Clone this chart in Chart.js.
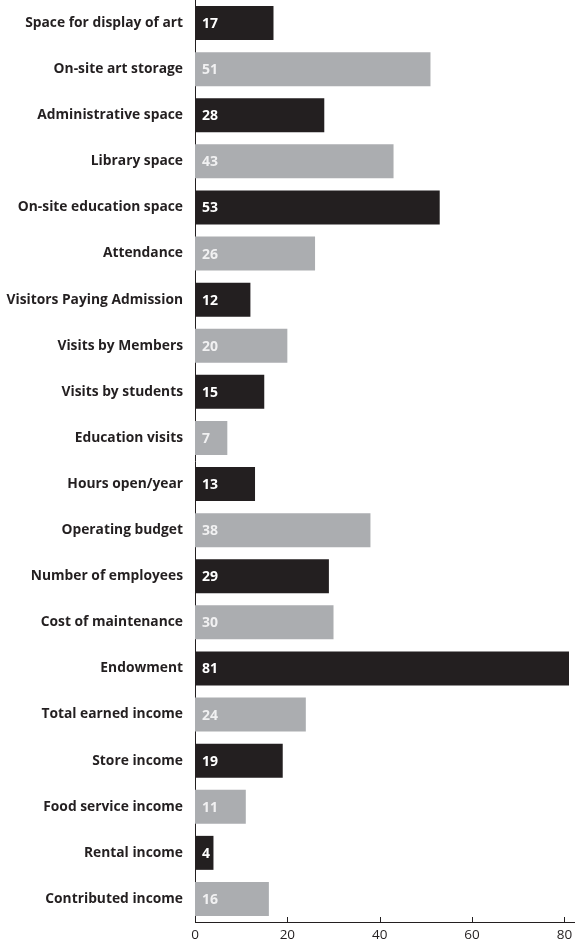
<!DOCTYPE html>
<html>
<head>
<meta charset="utf-8">
<script src="https://cdn.jsdelivr.net/npm/chart.js@4.4.1/dist/chart.umd.min.js"></script>
<style>
  html, body { margin: 0; padding: 0; background: #fff; }
  #wrap { width: 575px; height: 943px; }
</style>
</head>
<body>
<div id="wrap"><canvas id="bars"></canvas></div>
<script>
// data
const categories = [
    'Space for display of art', 'On-site art storage', 'Administrative space',
    'Library space', 'On-site education space', 'Attendance',
    'Visitors Paying Admission', 'Visits by Members', 'Visits by students',
    'Education visits', 'Hours open/year', 'Operating budget',
    'Number of employees', 'Cost of maintenance', 'Endowment',
    'Total earned income', 'Store income', 'Food service income',
    'Rental income', 'Contributed income'
];
const values = [17, 51, 28, 43, 53, 26, 12, 20, 15, 7, 13, 38, 29, 30, 81, 24, 19, 11, 4, 16];
const xTicks = [0, 20, 40, 60, 80];

const DARK = '#231f20';
const GREY = '#abadb0';
const barColors = values.map((v, i) => i % 2 == 0 ? DARK : GREY);
const textColors = values.map((v, i) => i % 2 == 0 ? '#ffffff' : '#f1f1f2');

const labelFont = "'Open Sans', 'Noto Sans', sans-serif";

// white numbers inside the bars
const valueLabels = {
    id: 'valueLabels',
    afterDatasetsDraw(chart) {
        const ctx = chart.ctx;
        const meta = chart.getDatasetMeta(0);
        ctx.save();
        ctx.font = 'bold 14px ' + labelFont;
        ctx.textAlign = 'left';
        ctx.textBaseline = 'middle';
        meta.data.forEach((bar, i) => {
            ctx.fillStyle = textColors[i];
            ctx.fillText(String(values[i]), bar.base + 7, bar.y + 1);
        });
        ctx.restore();
    }
};

// small tick marks pointing up from the x axis
const innerTicks = {
    id: 'innerTicks',
    afterDraw(chart) {
        const ctx = chart.ctx;
        const xs = chart.scales.x;
        const bottom = chart.chartArea.bottom;
        ctx.save();
        ctx.strokeStyle = DARK;
        ctx.lineWidth = 1;
        xs.ticks.forEach(t => {
            const px = Math.round(xs.getPixelForValue(t.value)) + 0.5;
            ctx.beginPath();
            ctx.moveTo(px, bottom);
            ctx.lineTo(px, bottom - 5);
            ctx.stroke();
        });
        ctx.restore();
    }
};

const config = {
    type: 'bar',
    data: {
        labels: categories,
        datasets: [{
            data: values,
            backgroundColor: barColors,
            borderWidth: 0,
            barPercentage: 0.737,
            categoryPercentage: 1
        }]
    },
    options: {
        indexAxis: 'y',
        responsive: true,
        maintainAspectRatio: false,
        animation: false,
        layout: { padding: { top: 0, right: 0, bottom: 0, left: 0 } },
        plugins: {
            legend: { display: false },
            tooltip: { enabled: false }
        },
        scales: {
            x: {
                min: 0,
                max: 82.3,
                afterFit(scale) {
                    scale.height = 21;
                    scale.paddingLeft = 0;
                    scale.paddingRight = 0;
                },
                afterBuildTicks(scale) {
                    scale.ticks = xTicks.map(v => ({ value: v }));
                },
                grid: { display: false, drawTicks: false },
                border: { display: true, color: DARK, width: 1 },
                ticks: {
                    padding: 5,
                    color: DARK,
                    font: { family: labelFont, size: 13.5 }
                }
            },
            y: {
                afterFit(scale) {
                    scale.width = 195;
                    scale.paddingTop = 0;
                    scale.paddingBottom = 0;
                },
                grid: { display: false, drawTicks: false },
                border: { display: true, color: DARK, width: 1 },
                ticks: {
                    padding: 12,
                    color: DARK,
                    font: { family: labelFont, size: 13.8, weight: 'bold' }
                }
            }
        }
    },
    plugins: [valueLabels, innerTicks]
};

const chart = new Chart('bars', config);
</script>
</body>
</html>
